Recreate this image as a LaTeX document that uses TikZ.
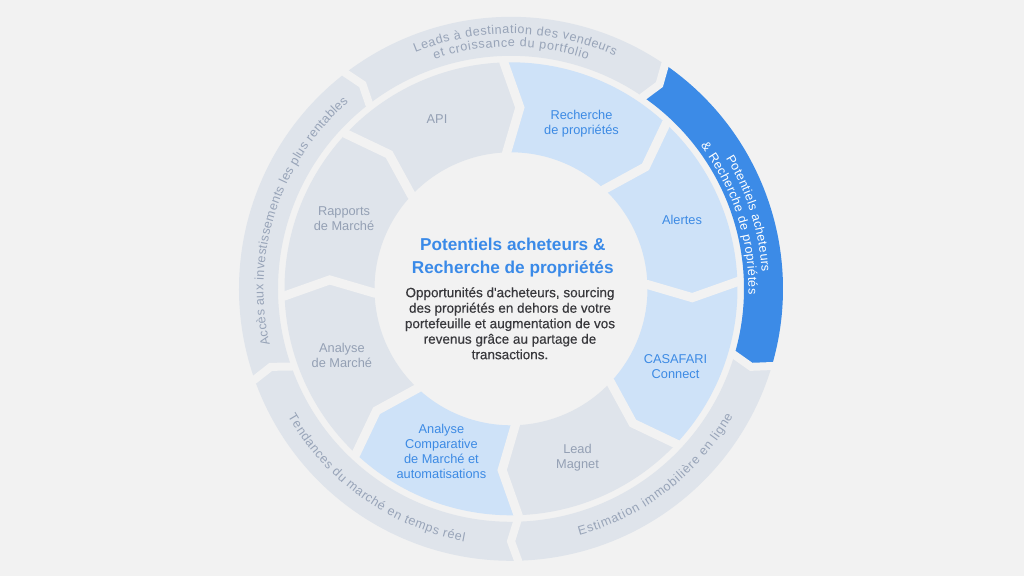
\documentclass[tikz,border=0pt]{standalone}
\usepackage{fontspec}
\setmainfont{Liberation Sans}
\newfontfamily\bodyfont[FakeBold=0.4]{Liberation Sans}
\usetikzlibrary{decorations.text}
\definecolor{bgcol}{HTML}{F2F2F2}
\definecolor{seggray}{HTML}{DFE4EB}
\definecolor{seglight}{HTML}{CEE2F8}
\definecolor{segblue}{HTML}{3C8BE7}
\definecolor{labelgray}{HTML}{94A0B4}
\definecolor{labelblue}{HTML}{3C8AE4}
\definecolor{ringtext}{HTML}{98A4B8}
\definecolor{titleblue}{HTML}{3A8AE8}
\definecolor{bodytext}{HTML}{38383C}
\newcommand{\ringtxt}{\fontsize{12.6}{14}\selectfont}
% #1 colour, #2 start angle, #3 end angle, #4 inner r, #5 outer r, #6 end offset, #7 tip offset
\newcommand{\ringseg}[7]{%
  \pgfmathsetmacro\segmid{(#4+#5)/2}%
  \fill[#1] ({#2+#6}:{#5}) arc[start angle={#2+#6}, end angle={#3+#6}, radius=#5]
    -- ({#3-#7}:{\segmid}) -- ({#3+#6}:{#4})
    arc[start angle={#3+#6}, end angle={#2+#6}, radius=#4]
    -- ({#2-#7}:{\segmid}) -- cycle;}
% #1 angle, #2 inner r, #3 outer r, #4 end offset, #5 tip offset, #6 width
\newcommand{\ringgap}[6]{%
  \pgfmathsetmacro\gapmid{(#2+#3)/2}%
  \draw[bgcol, line width=#6, line join=miter]
    ({#1+#4}:{#3+5}) -- ({#1+#4}:{#3}) -- ({#1-#5}:{\gapmid})
    -- ({#1+#4}:{#2}) -- ({#1+#4}:{#2-5});}
\begin{document}
\begin{tikzpicture}[x=1pt,y=1pt,
  lbl/.style={align=center, inner sep=0pt, font=\fontsize{12.8}{15}\selectfont},
  lblgray/.style={lbl, text=labelgray},
  lblblue/.style={lbl, text=labelblue},
  ringlabel/.style={decorate, decoration={text along path, text align={fit to path}, text color=#1}}]
\fill[bgcol] (-511,-287.2) rectangle (513,288.8);
\useasboundingbox (-511,-287.2) rectangle (513,288.8);

% outer ring
\ringseg{seggray}{198}{126}{233}{272}{1.5}{0}
\ringseg{seggray}{126}{54}{233}{272}{1.5}{0}
\ringseg{segblue}{54}{-18}{233}{272}{1.5}{0}
\ringseg{seggray}{-18}{-90}{233}{272}{1.5}{0}
\ringseg{seggray}{-90}{-162}{233}{272}{1.5}{0}

% inner ring
\ringseg{seggray}{180}{135}{136.5}{226.5}{1.8}{2.8}
\ringseg{seggray}{135}{90}{136.5}{226.5}{1.8}{2.8}
\ringseg{seglight}{90}{45}{136.5}{226.5}{1.8}{2.8}
\ringseg{seglight}{45}{0}{136.5}{226.5}{1.8}{2.8}
\ringseg{seglight}{0}{-45}{136.5}{226.5}{1.8}{2.8}
\ringseg{seggray}{-45}{-90}{136.5}{226.5}{1.8}{2.8}
\ringseg{seglight}{-90}{-135}{136.5}{226.5}{1.8}{2.8}
\ringseg{seggray}{-135}{-180}{136.5}{226.5}{1.8}{2.8}

% separators
\foreach \a in {198,126,54,-18,-90} {\ringgap{\a}{233}{272}{1.5}{0}{8pt}}
\foreach \a in {180,135,90,45,0,-45,-90,-135} {\ringgap{\a}{136.5}{226.5}{1.8}{2.8}{9pt}}

% outer ring texts
\path[ringlabel=ringtext, decoration={text={|\ringtxt|Leads à destination des vendeurs}}]
  (112:255) arc[start angle=112, end angle=66, radius=255];
\path[ringlabel=ringtext, decoration={text={|\ringtxt|et croissance du portfolio}}]
  (108.4:242) arc[start angle=108.4, end angle=71.6, radius=242];
\path[ringlabel=white, decoration={text={|\ringtxt|Potentiels acheteurs}}]
  (31.3:251.5) arc[start angle=31.3, end angle=3.8, radius=251.5];
\path[ringlabel=white, decoration={text={|\ringtxt|{\&} Recherche de propriétés}}]
  (37:237.5) arc[start angle=37, end angle=-1.4, radius=237.5];
\path[ringlabel=ringtext, decoration={text={|\ringtxt|Estimation immobilière en ligne}}]
  (-74.5:256) arc[start angle=-74.5, end angle=-29.9, radius=256];
\path[ringlabel=ringtext, decoration={text={|\ringtxt|Tendances du marché en temps réel}}]
  (209.8:257) arc[start angle=209.8, end angle=259.5, radius=257];
\path[ringlabel=ringtext, decoration={text={|\ringtxt|Accès aux investissements les plus rentables}}]
  (193.1:247.5) arc[start angle=193.1, end angle=131.1, radius=247.5];

% inner ring labels
\node[lblgray] (api) at (-74,169.8) {API};
\node[lblblue] (recherche) at (70.5,165.3) {Recherche\\de propriétés};
\node[lblblue] (alertes) at (171,68.8) {Alertes};
\node[lblblue] (casafari) at (164.5,-78.2) {CASAFARI\\Connect};
\node[lblgray] (lead) at (66.5,-168.7) {Lead\\Magnet};
\node[lblblue] (acm) at (-69.6,-162.2) {Analyse\\Comparative\\de Marché et\\automatisations};
\node[lblgray] (adm) at (-169.1,-66.7) {Analyse\\de Marché};
\node[lblgray] (rapports) at (-167,70.1) {Rapports\\de Marché};

% centre
\node[font=\fontsize{17.2}{23.3}\selectfont\bfseries, text=titleblue, align=center, inner sep=0pt]
  (title) at (1.8,31.6) {Potentiels acheteurs \&\\Recherche de propriétés};
\node[font=\bodyfont\fontsize{13.5}{15.5}\selectfont, text=bodytext, align=center, inner sep=0pt]
  (body) at (-1,-34.5) {Opportunités d'acheteurs, sourcing\\des propriétés en dehors de votre\\portefeuille et augmentation de vos\\revenus grâce au partage de\\transactions.};
\end{tikzpicture}
\end{document}
